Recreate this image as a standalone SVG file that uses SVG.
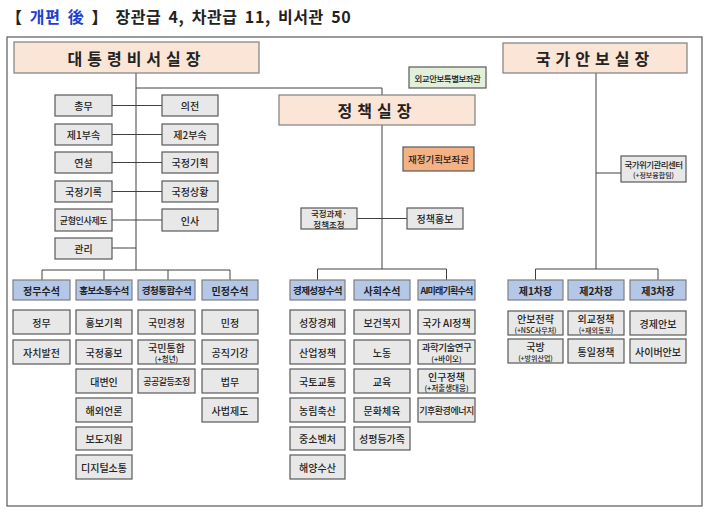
<svg xmlns="http://www.w3.org/2000/svg" width="710" height="514" viewBox="0 0 710 514">
<style>
text{font-family:"Noto Sans CJK KR","Noto Sans",sans-serif;text-anchor:middle;dominant-baseline:central;fill:#222}
.b rect{fill:#e8e8e8;stroke:#595959;stroke-width:1.2}
.b text{font-size:10px;font-weight:500}
.h rect{fill:#b4c7e7;stroke:#7f7f7f;stroke-width:1.2}
.h text{font-size:10px;font-weight:700}
.t rect{fill:#fbe5d6;stroke:#7f7f7f;stroke-width:1.2}
.t text{font-size:16px;font-weight:700;letter-spacing:5px}
#links path{fill:none;stroke:#404040;stroke-width:1}
</style>
<rect width="710" height="514" fill="#fff"/>
<text x="6" y="16" style="text-anchor:start;font-size:16px;font-weight:700;letter-spacing:0.6px;word-spacing:3px"><tspan fill="#222">【 </tspan><tspan fill="#1f3fd0">개편 後</tspan><tspan fill="#222"> 】  장관급 4, 차관급 11, 비서관 50</tspan></text>
<rect x="7" y="37" width="695" height="469" fill="none" stroke="#595959" stroke-width="1.2"/>
<g id="links">
<path d="M136 73V270M136 88H382V95M112 105.5H162M112 134.5H162M112 162.5H162M112 191.5H162M112 220H162M112 248H136"/>
<path d="M42 280V270H230V280M104 270V280M168 270V280"/>
<path d="M382 125V269M357 218.5H407M317.5 280V269H446.5V280"/>
<path d="M596 73V269M596 173H621M535.5 280V269H658V280"/>
</g>
<g class="t">
<g id="n-chief"><rect x="14" y="42" width="245" height="31"/><text x="136.5" y="57.5">대통령비서실장</text></g>
<g id="n-policy"><rect x="279" y="95" width="196" height="30"/><text x="377" y="110">정책실장</text></g>
<g id="n-security"><rect x="503" y="43" width="184" height="30"/><text x="595" y="58">국가안보실장</text></g>
</g>
<g class="b">
<g id="n-dip"><rect x="409" y="67" width="77" height="21" style="fill:#e2efda"/><text x="447.5" y="77.5" style="font-size:8.5px;letter-spacing:-0.5px">외교안보특별보좌관</text></g>
<g id="n-fin"><rect x="403" y="147" width="71" height="24" style="fill:#f4b183"/><text x="438.5" y="159" style="font-size:9.5px">재정기획보좌관</text></g>
<g id="n-crisis"><rect x="621" y="156" width="65" height="26"/><text x="653.5" y="164" style="font-size:8.5px;letter-spacing:-0.6px">국가위기관리센터</text><text x="653.5" y="175" style="font-size:7px">(+정보융합팀)</text></g>
<g id="n-task"><rect x="301" y="208" width="56" height="21"/><text x="329" y="213" style="font-size:8.5px">국정과제·</text><text x="329" y="224" style="font-size:8.5px">정책조정</text></g>
<g id="n-pr"><rect x="407" y="208" width="56" height="21"/><text x="435" y="218.5">정책홍보</text></g>
<g id="n1"><rect x="55" y="95" width="57" height="21"/><text x="83.5" y="105.5">총무</text></g>
<g id="n2"><rect x="162" y="95" width="56" height="21"/><text x="190" y="105.5">의전</text></g>
<g id="n3"><rect x="55" y="124" width="57" height="21"/><text x="83.5" y="134.5">제1부속</text></g>
<g id="n4"><rect x="162" y="124" width="56" height="21"/><text x="190" y="134.5">제2부속</text></g>
<g id="n5"><rect x="55" y="152" width="57" height="21"/><text x="83.5" y="162.5">연설</text></g>
<g id="n6"><rect x="162" y="152" width="56" height="21"/><text x="190" y="162.5">국정기획</text></g>
<g id="n7"><rect x="55" y="181" width="57" height="21"/><text x="83.5" y="191.5">국정기록</text></g>
<g id="n8"><rect x="162" y="181" width="56" height="21"/><text x="190" y="191.5">국정상황</text></g>
<g id="n9"><rect x="55" y="209" width="57" height="22"/><text x="83.5" y="220" style="font-size:9px;letter-spacing:-0.4px">균형인사제도</text></g>
<g id="n10"><rect x="162" y="209" width="56" height="22"/><text x="190" y="220">인사</text></g>
<g id="n11"><rect x="55" y="238" width="57" height="21"/><text x="83.5" y="248.5">관리</text></g>
</g>
<g class="h">
<g id="h1"><rect x="13" y="280" width="57" height="20"/><text x="41.5" y="290">정무수석</text></g>
<g id="h2"><rect x="76" y="280" width="56" height="20"/><text x="104" y="290" style="font-size:9.5px;letter-spacing:-0.5px">홍보소통수석</text></g>
<g id="h3"><rect x="138" y="280" width="57" height="20"/><text x="166.5" y="290" style="font-size:9.5px;letter-spacing:-0.5px">경청통합수석</text></g>
<g id="h4"><rect x="202" y="280" width="56" height="20"/><text x="230" y="290">민정수석</text></g>
<g id="h5"><rect x="290" y="280" width="55" height="20"/><text x="317.5" y="290" style="font-size:9.5px;letter-spacing:-0.6px">경제성장수석</text></g>
<g id="h6"><rect x="354" y="280" width="56" height="20"/><text x="382" y="290">사회수석</text></g>
<g id="h7"><rect x="418" y="280" width="57" height="20"/><text x="446.5" y="290" style="font-size:9px;letter-spacing:-0.8px">AI미래기획수석</text></g>
<g id="h8"><rect x="508" y="280" width="55" height="20"/><text x="535.5" y="290">제1차장</text></g>
<g id="h9"><rect x="568" y="280" width="56" height="20"/><text x="596" y="290">제2차장</text></g>
<g id="h10"><rect x="630" y="280" width="56" height="20"/><text x="658" y="290">제3차장</text></g>
</g>
<g class="b">
<g id="a1"><rect x="13" y="310" width="57" height="24"/><text x="41.5" y="322">정무</text></g>
<g id="a2"><rect x="13" y="340" width="57" height="24"/><text x="41.5" y="352">자치발전</text></g>
<g id="b1"><rect x="76" y="310" width="56" height="24"/><text x="104" y="322">홍보기획</text></g>
<g id="b2"><rect x="76" y="340" width="56" height="24"/><text x="104" y="352">국정홍보</text></g>
<g id="b3"><rect x="76" y="369" width="56" height="24"/><text x="104" y="381">대변인</text></g>
<g id="b4"><rect x="76" y="398" width="56" height="24"/><text x="104" y="410">해외언론</text></g>
<g id="b5"><rect x="76" y="427" width="56" height="23"/><text x="104" y="438.5">보도지원</text></g>
<g id="b6"><rect x="76" y="455" width="56" height="24"/><text x="104" y="467">디지털소통</text></g>
<g id="c1"><rect x="138" y="310" width="57" height="24"/><text x="166.5" y="322">국민경청</text></g>
<g id="c2"><rect x="138" y="340" width="57" height="24"/><text x="166.5" y="347">국민통합</text><text x="166.5" y="358.5" style="font-size:7.5px">(+청년)</text></g>
<g id="c3"><rect x="138" y="369" width="57" height="24"/><text x="166.5" y="381" style="font-size:9px;letter-spacing:-0.5px">공공갈등조정</text></g>
<g id="d1"><rect x="202" y="310" width="56" height="24"/><text x="230" y="322">민정</text></g>
<g id="d2"><rect x="202" y="340" width="56" height="24"/><text x="230" y="352">공직기강</text></g>
<g id="d3"><rect x="202" y="369" width="56" height="24"/><text x="230" y="381">법무</text></g>
<g id="d4"><rect x="202" y="398" width="56" height="24"/><text x="230" y="410">사법제도</text></g>
<g id="e1"><rect x="290" y="310" width="55" height="24"/><text x="317.5" y="322">성장경제</text></g>
<g id="e2"><rect x="290" y="340" width="55" height="24"/><text x="317.5" y="352">산업정책</text></g>
<g id="e3"><rect x="290" y="369" width="55" height="24"/><text x="317.5" y="381">국토교통</text></g>
<g id="e4"><rect x="290" y="398" width="55" height="24"/><text x="317.5" y="410">농림축산</text></g>
<g id="e5"><rect x="290" y="427" width="55" height="23"/><text x="317.5" y="438.5">중소벤처</text></g>
<g id="e6"><rect x="290" y="455" width="55" height="24"/><text x="317.5" y="467">해양수산</text></g>
<g id="f1"><rect x="354" y="310" width="56" height="24"/><text x="382" y="322">보건복지</text></g>
<g id="f2"><rect x="354" y="340" width="56" height="24"/><text x="382" y="352">노동</text></g>
<g id="f3"><rect x="354" y="369" width="56" height="24"/><text x="382" y="381">교육</text></g>
<g id="f4"><rect x="354" y="398" width="56" height="24"/><text x="382" y="410">문화체육</text></g>
<g id="f5"><rect x="354" y="427" width="56" height="23"/><text x="382" y="438.5">성평등가족</text></g>
<g id="g1"><rect x="418" y="310" width="57" height="24"/><text x="446.5" y="322">국가 AI정책</text></g>
<g id="g2"><rect x="418" y="340" width="57" height="24"/><text x="446.5" y="347" style="font-size:9.5px;letter-spacing:-0.5px">과학기술연구</text><text x="446.5" y="358.5" style="font-size:7.5px">(+바이오)</text></g>
<g id="g3"><rect x="418" y="369" width="57" height="24"/><text x="446.5" y="376">인구정책</text><text x="446.5" y="387.5" style="font-size:7.5px">(+저출생대응)</text></g>
<g id="g4"><rect x="418" y="398" width="57" height="24"/><text x="446.5" y="410" style="font-size:9px;letter-spacing:-0.5px">기후환경에너지</text></g>
<g id="k1"><rect x="508" y="311" width="55" height="24"/><text x="535.5" y="318">안보전략</text><text x="535.5" y="329.5" style="font-size:7px">(+NSC사무처)</text></g>
<g id="k2"><rect x="508" y="339" width="55" height="24"/><text x="535.5" y="346">국방</text><text x="535.5" y="357.5" style="font-size:7px">(+방위산업)</text></g>
<g id="k3"><rect x="568" y="311" width="56" height="24"/><text x="596" y="318">외교정책</text><text x="596" y="329.5" style="font-size:7px">(+재외동포)</text></g>
<g id="k4"><rect x="568" y="339" width="56" height="24"/><text x="596" y="351">통일정책</text></g>
<g id="k5"><rect x="630" y="311" width="56" height="24"/><text x="658" y="323">경제안보</text></g>
<g id="k6"><rect x="630" y="339" width="56" height="24"/><text x="658" y="351">사이버안보</text></g>
</g>
</svg>
